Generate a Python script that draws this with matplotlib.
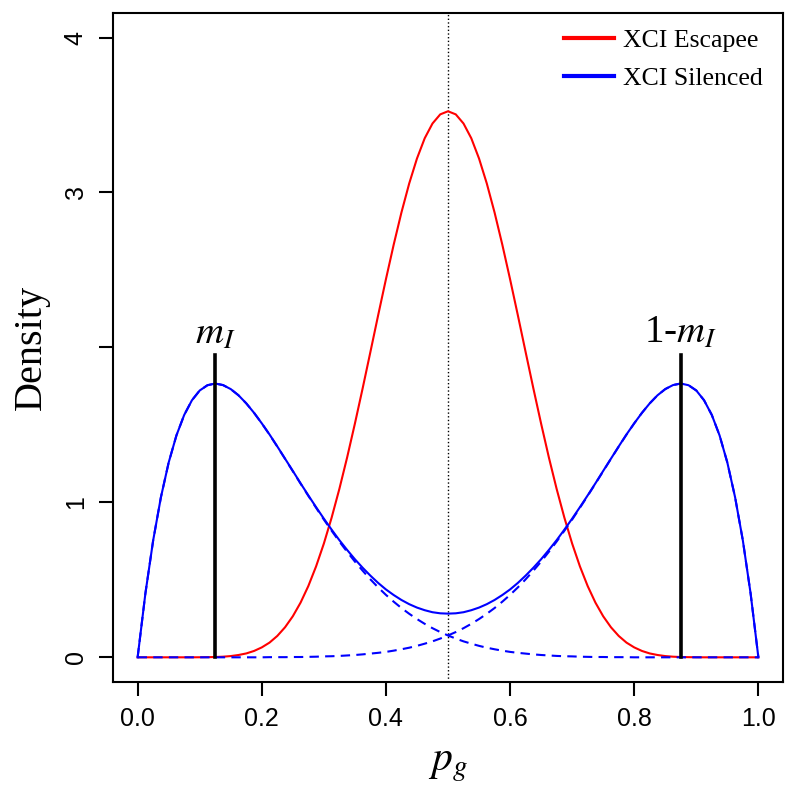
import matplotlib
matplotlib.use("Agg")
import matplotlib.pyplot as plt

# Posições em p_g onde as curvas foram lidas
p_g = [0.0, 0.0125, 0.025, 0.0375, 0.05, 0.0625, 0.075, 0.0875, 0.1, 0.1125,
       0.125, 0.1375, 0.15, 0.1625, 0.175, 0.1875, 0.2, 0.2125, 0.225, 0.2375,
       0.25, 0.2625, 0.275, 0.2875, 0.3, 0.3125, 0.325, 0.3375, 0.35, 0.3625,
       0.375, 0.3875, 0.4, 0.4125, 0.425, 0.4375, 0.45, 0.4625, 0.475, 0.4875,
       0.5, 0.5125, 0.525, 0.5375, 0.55, 0.5625, 0.575, 0.5875, 0.6, 0.6125,
       0.625, 0.6375, 0.65, 0.6625, 0.675, 0.6875, 0.7, 0.7125, 0.725, 0.7375,
       0.75, 0.7625, 0.775, 0.7875, 0.8, 0.8125, 0.825, 0.8375, 0.85, 0.8625,
       0.875, 0.8875, 0.9, 0.9125, 0.925, 0.9375, 0.95, 0.9625, 0.975, 0.9875,
       1.0]

# XCI Escapee (vermelho)
escapee = [0, 0, 0, 0, 0, 0, 0, 0, 0.0004, 0.001,
           0.002, 0.004, 0.008, 0.015, 0.025, 0.041, 0.064, 0.095, 0.138, 0.194,
           0.265, 0.353, 0.460, 0.587, 0.734, 0.901, 1.087, 1.290, 1.508, 1.736,
           1.971, 2.208, 2.440, 2.663, 2.871, 3.058, 3.219, 3.350, 3.445, 3.504,
           3.524, 3.504, 3.445, 3.350, 3.219, 3.058, 2.871, 2.663, 2.440, 2.208,
           1.971, 1.736, 1.508, 1.290, 1.087, 0.901, 0.734, 0.587, 0.460, 0.353,
           0.265, 0.194, 0.138, 0.095, 0.064, 0.041, 0.025, 0.015, 0.008, 0.004,
           0.002, 0.001, 0.0004, 0, 0, 0, 0, 0, 0, 0,
           0]

# XCI Silenced (azul, mistura)
silenced = [0, 0.412, 0.754, 1.033, 1.257, 1.432, 1.564, 1.659, 1.722, 1.756,
            1.767, 1.757, 1.731, 1.691, 1.639, 1.578, 1.510, 1.438, 1.361, 1.282,
            1.203, 1.123, 1.045, 0.969, 0.895, 0.824, 0.756, 0.693, 0.633, 0.578,
            0.527, 0.480, 0.438, 0.402, 0.370, 0.343, 0.321, 0.304, 0.291, 0.284,
            0.282, 0.284, 0.291, 0.304, 0.321, 0.343, 0.370, 0.402, 0.438, 0.480,
            0.527, 0.578, 0.633, 0.693, 0.756, 0.824, 0.895, 0.969, 1.045, 1.123,
            1.203, 1.282, 1.361, 1.438, 1.510, 1.578, 1.639, 1.691, 1.731, 1.757,
            1.767, 1.756, 1.722, 1.659, 1.564, 1.432, 1.257, 1.033, 0.754, 0.412,
            0]

# componentes tracejadas
comp_esq = [0, 0.412, 0.754, 1.033, 1.257, 1.432, 1.564, 1.659, 1.722, 1.756,
            1.767, 1.757, 1.731, 1.691, 1.639, 1.578, 1.510, 1.437, 1.360, 1.281,
            1.201, 1.121, 1.042, 0.965, 0.889, 0.817, 0.747, 0.681, 0.618, 0.559,
            0.503, 0.451, 0.403, 0.359, 0.318, 0.281, 0.247, 0.216, 0.188, 0.163,
            0.141, 0.121, 0.103, 0.088, 0.074, 0.062, 0.052, 0.043, 0.035, 0.029,
            0.024, 0.019, 0.015, 0.012, 0.009, 0.007, 0.006, 0.004, 0.003, 0.002,
            0.002, 0.001, 0.001, 0.001, 0, 0, 0, 0, 0, 0,
            0, 0, 0, 0, 0, 0, 0, 0, 0, 0,
            0]
comp_dir = [0, 0, 0, 0, 0, 0, 0, 0, 0, 0,
            0, 0, 0, 0, 0, 0, 0, 0.001, 0.001, 0.001,
            0.002, 0.002, 0.003, 0.004, 0.006, 0.007, 0.009, 0.012, 0.015, 0.019,
            0.024, 0.029, 0.035, 0.043, 0.052, 0.062, 0.074, 0.088, 0.103, 0.121,
            0.141, 0.163, 0.188, 0.216, 0.247, 0.281, 0.318, 0.359, 0.403, 0.451,
            0.503, 0.559, 0.618, 0.681, 0.747, 0.817, 0.889, 0.965, 1.042, 1.121,
            1.201, 1.281, 1.360, 1.437, 1.510, 1.578, 1.639, 1.691, 1.731, 1.757,
            1.767, 1.756, 1.722, 1.659, 1.564, 1.432, 1.257, 1.033, 0.754, 0.412,
            0]

m_I = 0.125
altura_linha = 1.95

x_ticks = [0.0, 0.2, 0.4, 0.6, 0.8, 1.0]
x_labels = ['0.0', '0.2', '0.4', '0.6', '0.8', '1.0']
y_ticks = [0, 1, 2, 3, 4]
y_labels = ['0', '1', '', '3', '4']

plt.rcParams['mathtext.fontset'] = 'stix'

fig = plt.figure(figsize=(8, 7.95), dpi=100)
ax = fig.add_axes([0.141, 0.142, 0.838, 0.842])

ax.axvline(0.5, color='black', linestyle=':', linewidth=1.0, zorder=1)
ax.plot(p_g, escapee, color='#ff0000', linewidth=1.5, label='XCI Escapee', zorder=2)
ax.plot(p_g, silenced, color='#0000ff', linewidth=1.5, label='XCI Silenced', zorder=3)
ax.plot(p_g, comp_esq, color='#0000ff', linewidth=1.5, dashes=(4.5, 3), zorder=3)
ax.plot(p_g, comp_dir, color='#0000ff', linewidth=1.5, dashes=(4.5, 3), zorder=3)

ax.plot([m_I, m_I], [0, altura_linha], color='black', linewidth=2.6, zorder=4)
ax.plot([1 - m_I, 1 - m_I], [0, altura_linha], color='black', linewidth=2.6, zorder=4)
ax.text(m_I, 1.97, r'$m_I$', fontsize=28, ha='center', va='bottom')
ax.text(1 - m_I, 1.97, r'1-$m_I$', fontsize=28, ha='center', va='bottom',
        family='Liberation Serif')

ax.set_xlim(-0.04, 1.04)
ax.set_ylim(-0.16, 4.16)
ax.set_xticks(x_ticks)
ax.set_xticklabels(x_labels, fontsize=18, family='Liberation Sans')
ax.set_yticks(y_ticks)
ax.set_yticklabels(y_labels, fontsize=18, family='Liberation Sans', rotation=90, va='center')
ax.tick_params(axis='both', length=10, width=1.5, pad=8)

for s in ax.spines.values():
    s.set_linewidth(1.5)

ax.set_xlabel(r'$p_g$', fontsize=30, labelpad=8)
ax.set_ylabel('Density', fontsize=29, family='Liberation Serif', labelpad=10)

leg = ax.legend(loc='upper right', bbox_to_anchor=(0.9845, 0.991), frameon=False,
                prop={'family': 'Liberation Serif', 'size': 18.5},
                handlelength=1.95, handletextpad=0.35, labelspacing=0.6, borderaxespad=0)
for line in leg.get_lines():
    line.set_linewidth(3)

fig.savefig('out.png', dpi=100)
